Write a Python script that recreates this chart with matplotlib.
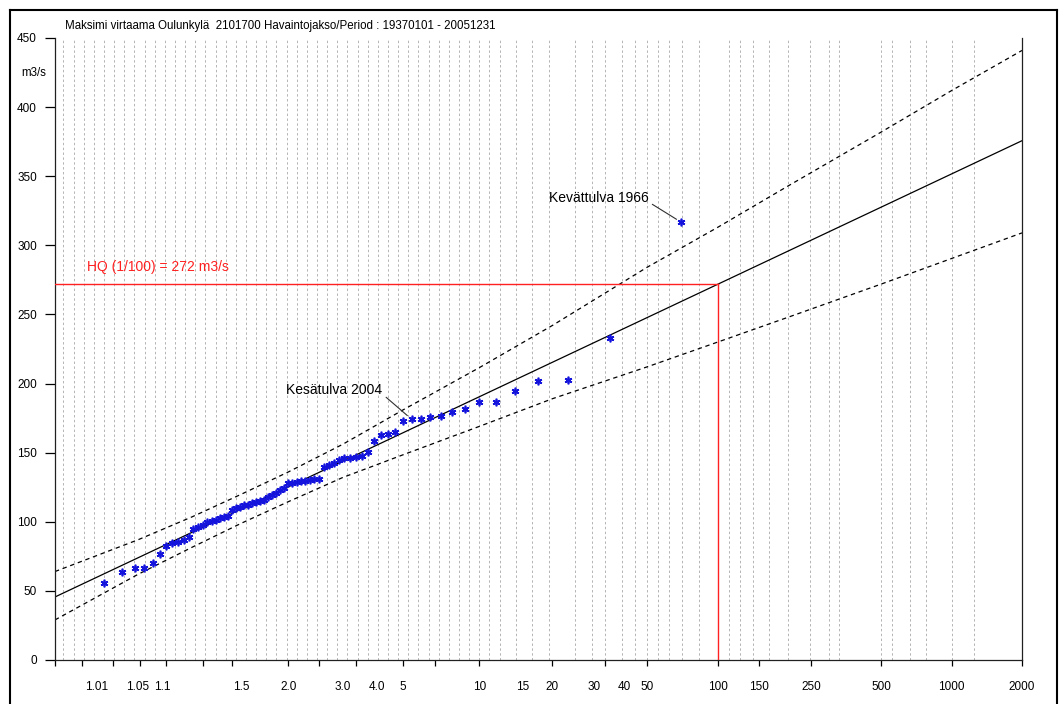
import numpy as np
import matplotlib
matplotlib.use("Agg")
import matplotlib.pyplot as plt
from matplotlib.lines import Line2D

plt.rcParams["font.family"] = ["Liberation Sans", "DejaVu Sans"]

# annual maximum flows 1937-2005, sorted ascending (m3/s)
flows = [
    55.5, 63.5, 66.5, 66.5, 70.0, 76.5, 82.5, 84.5, 85.5, 86.5,
    89.0, 95.0, 96.5, 98.0, 99.5, 100.5, 101.5, 102.5, 103.3, 104.2,
    108.5, 109.8, 111.0, 112.0, 112.2, 113.8, 114.5, 115.0, 115.8, 117.7,
    119.4, 121.0, 123.0, 124.2, 127.9, 128.3, 128.8, 129.5, 129.7, 130.2,
    130.8, 131.2, 139.4, 141.1, 142.5, 144.7, 145.9, 146.4, 147.1, 147.8,
    150.7, 158.5, 162.6, 163.5, 164.8, 172.9, 174.2, 174.2, 176.0, 176.6,
    179.7, 181.4, 186.9, 187.0, 194.6, 202.1, 202.3, 233.0, 316.7,
]

# fitted Gumbel line (return period, flow)
fit_T = [1.001, 2000]
fit_q = [45.6, 375.7]

# confidence band read at some return periods
band_T = [1.001, 1.05, 1.2, 1.5, 2, 3, 5, 10, 20, 50, 100, 200, 500, 1000, 2000]
band_upper = [64, 87, 103.5, 120, 136, 156, 181, 211.5, 242, 284, 313, 343, 382, 412, 441]
band_lower = [29, 62, 81.5, 99, 114.5, 132, 148.5, 169, 189, 212, 230, 248, 272, 290.5, 309]

hq_T = 100
hq_q = 272

# axis: tick marks at non-exceedance probabilities, labels at return periods
tick_P = [0.001, 0.005, 0.02, 0.05, 0.1, 0.2, 0.3, 0.5, 0.6, 0.7, 0.8, 0.85,
          0.9, 0.95, 0.97, 0.98, 0.99, 1 - 1 / 150, 0.996, 0.998, 0.999, 0.9995]
label_T = [1 / 0.99, 1.05, 1.1, 1.5, 2, 3, 4, 5, 10, 15, 20, 30, 40, 50,
           100, 150, 250, 500, 1000, 2000]
label_text = ["1.01", "1.05", "1.1", "1.5", "2.0", "3.0", "4.0", "5", "10", "15",
              "20", "30", "40", "50", "100", "150", "250", "500", "1000", "2000"]
y_ticks = list(range(0, 451, 50))


def gumbel_T(T):
    T = np.asarray(T, dtype=float)
    return -np.log(-np.log(1 - 1 / T))


def gumbel_P(P):
    P = np.asarray(P, dtype=float)
    return -np.log(-np.log(P))


fig = plt.figure(figsize=(10.6, 7.04), dpi=100)
ax = fig.add_axes([55 / 1060, 1 - 660 / 704, (1022 - 55) / 1060, (660 - 38) / 704])

x_min = gumbel_P(0.001)
x_max = gumbel_P(0.9995)

# vertical dotted grid
grid_x = list(np.arange(-1.85, 2.5, 0.1)) + [
    2.615, 2.77, 2.94, 3.19, 3.36, 3.49, 3.66, 3.79, 3.90, 4.01, 4.12, 4.25, 4.42,
    4.71, 4.82, 4.95, 5.11, 5.29, 5.51, 5.70, 5.80, 6.21, 6.32, 6.50, 6.65, 6.91, 7.13]
for gx in grid_x:
    ax.axvline(gx, color="#b4b4b4", lw=0.7, ls=(0, (2.5, 2.5)), zorder=0)

# fit and confidence band
ax.plot(gumbel_T(fit_T), fit_q, color="black", lw=0.9, zorder=2)
ax.plot(gumbel_T(band_T), band_upper, color="black", lw=0.9, ls=(0, (3.5, 3)), zorder=2)
ax.plot(gumbel_T(band_T), band_lower, color="black", lw=0.9, ls=(0, (3.5, 3)), zorder=2)

# HQ 1/100 lines
hq_x = gumbel_T(hq_T)
ax.plot([x_min, hq_x], [hq_q, hq_q], color="#ff2020", lw=1.0, zorder=3)
ax.plot([hq_x, hq_x], [0, hq_q], color="#ff2020", lw=1.0, zorder=3)
ax.text(-1.617, 284.5, f"HQ (1/100) = {hq_q} m3/s", color="#ff2020",
        fontsize=10, ha="left", va="center")

# observations, Weibull plotting positions
n = len(flows)
pos = gumbel_P(np.arange(1, n + 1) / (n + 1))
ax.plot(pos, flows, ls="none", marker=(6, 2, 0), ms=5.5, mew=1.2,
        color="#1414dc", zorder=4)

ax.annotate("Kesätulva 2004", xy=(pos[56], flows[56]), xytext=(1.294, 195.5),
            fontsize=10, ha="right", va="center",
            arrowprops=dict(arrowstyle="-", lw=0.8, color="#303030",
                            relpos=(1, 0.2), shrinkA=1, shrinkB=4))
ax.annotate("Kevättulva 1966", xy=(pos[68], flows[68]), xytext=(3.917, 334.5),
            fontsize=10, ha="right", va="center",
            arrowprops=dict(arrowstyle="-", lw=0.8, color="#303030",
                            relpos=(1, 0.2), shrinkA=1, shrinkB=4))

ax.set_xlim(x_min, x_max)
ax.set_ylim(0, 450)

ax.xaxis.remove_overlapping_locs = False
ax.set_xticks(gumbel_P(tick_P), labels=[""] * len(tick_P))
ax.set_xticks(gumbel_T(label_T), labels=label_text, minor=True)
ax.tick_params(axis="x", which="major", direction="out", length=4.5, width=0.9)
ax.tick_params(axis="x", which="minor", length=0, pad=15, labelsize=8.5)
ax.set_yticks(y_ticks)
ax.tick_params(axis="y", direction="out", length=7, width=0.9, pad=6, labelsize=8.5)

ax.spines["top"].set_visible(False)
for s in ("left", "bottom", "right"):
    ax.spines[s].set_linewidth(0.9)
    ax.spines[s].set_color("#202020")

fig.text(65 / 1060, 1 - 26 / 704,
         "Maksimi virtaama Oulunkylä  2101700 Havaintojakso/Period : 19370101 - 20051231",
         fontsize=8.3, ha="left", va="center")
fig.text(34 / 1060, 1 - 73 / 704, "m3/s", fontsize=8.3, ha="center", va="center")

# outer frame of the original window
fx0, fx1 = 9.5 / 1060, 1057 / 1060
fy1 = 1 - 9.5 / 704
fig.add_artist(Line2D([fx0, fx1], [fy1, fy1], transform=fig.transFigure, color="black", lw=1.5))
fig.add_artist(Line2D([fx0, fx0], [0, fy1], transform=fig.transFigure, color="black", lw=1.5))
fig.add_artist(Line2D([fx1, fx1], [0, fy1], transform=fig.transFigure, color="black", lw=1.5))

fig.savefig("out.png", dpi=100)
